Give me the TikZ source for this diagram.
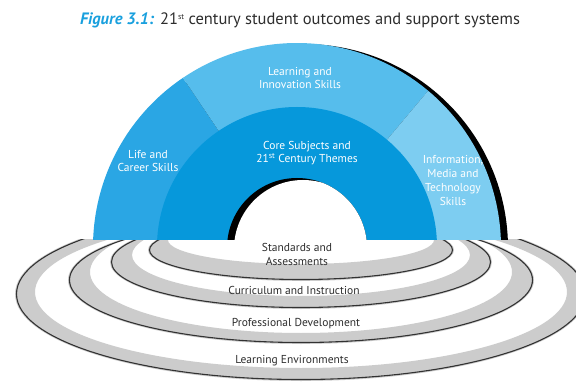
\documentclass[tikz,border=0pt]{standalone}
\usepackage{fontspec}
\setmainfont{PT Sans}
\definecolor{lifeblue}{RGB}{42,166,228}
\definecolor{learnblue}{RGB}{86,189,236}
\definecolor{infoblue}{RGB}{125,205,241}
\definecolor{coreblue}{RGB}{6,152,219}
\definecolor{titleblue}{RGB}{25,160,222}
\definecolor{inkgray}{RGB}{45,45,45}
\definecolor{ringgray}{RGB}{204,204,204}
\definecolor{ringline}{RGB}{50,50,50}
\tikzset{
  archtext/.style={text=white, align=center, font=\fontsize{11.5}{13.5}\selectfont, inner sep=0pt},
  ringtext/.style={text=inkgray, align=center, font=\fontsize{11.5}{14}\selectfont, inner sep=0pt},
  ringband/.style={fill=ringgray, even odd rule},
  ringedge/.style={draw=ringline, line width=1.1pt}
}
\begin{document}
\begin{tikzpicture}[x=1pt,y=-1pt]
\useasboundingbox (0,0) rectangle (576,385);
\fill[white] (0,0) rectangle (576,385);

% title
\node[text=inkgray, font=\fontsize{16.5}{18}\selectfont, inner sep=0pt] (title) at (300,20)
  {\textcolor{titleblue}{\textbf{\textit{Figure 3.1:}}} 21{\fontsize{8}{8}\selectfont\raisebox{4.5pt}{st}} century student outcomes and support systems};

% support-system rings, outermost first
\begin{scope}
  \clip (0,239) rectangle (576,385);
  \foreach \cy/\a/\b/\icy/\ia/\ib in {294/286/87/292/266/76, 280/233/64/272/211/61, 262/191/47/255/169/41, 250/153/31/240/133/24} {
    \fill[ringband] (301,\cy) ellipse[x radius=\a, y radius=\b] (301,\icy) ellipse[x radius=\ia, y radius=\ib];
    \draw[ringedge] (301,\cy) ellipse[x radius=\a-1.5, y radius=\b-1.5];
  }
\end{scope}

% outcomes arch
\begin{scope}
  \clip (0,0) rectangle (576,239);
  \fill[black] (304,248) circle[radius=204];
  \fill[lifeblue] (297,247) -- ++(-180:204) arc[start angle=-180, end angle=-124, radius=204] -- cycle;
  \fill[learnblue] (297,247) -- ++(-124:204) arc[start angle=-124, end angle=-50, radius=204] -- cycle;
  \fill[infoblue] (297,247) -- ++(-50:204) arc[start angle=-50, end angle=0, radius=204] -- cycle;
  \fill[coreblue] (297,247) circle[radius=140];
  \fill[black] (297,248) circle[radius=70];
  \begin{scope}
    \clip (297,248) circle[radius=70];
    \fill[white] (303,249) circle[radius=69];
  \end{scope}
\end{scope}

% arch labels
\node[archtext] (learn) at (300,78) {Learning and\\Innovation Skills};
\node[archtext] (life) at (148,161) {Life and\\Career Skills};
\node[archtext] (core) at (307,153) {Core Subjects and\\21\textsuperscript{st} Century Themes};
\node[archtext, font=\fontsize{11.5}{14}\selectfont] (info) at (453,180) {Information,\\Media and\\Technology\\Skills};

% ring labels
\node[ringtext] (standards) at (297,254) {Standards and\\Assessments};
\node[ringtext] (curriculum) at (294,290) {Curriculum and Instruction};
\node[ringtext] (professional) at (296,324) {Professional Development};
\node[ringtext] (environments) at (292,361) {Learning Environments};
\end{tikzpicture}
\end{document}
